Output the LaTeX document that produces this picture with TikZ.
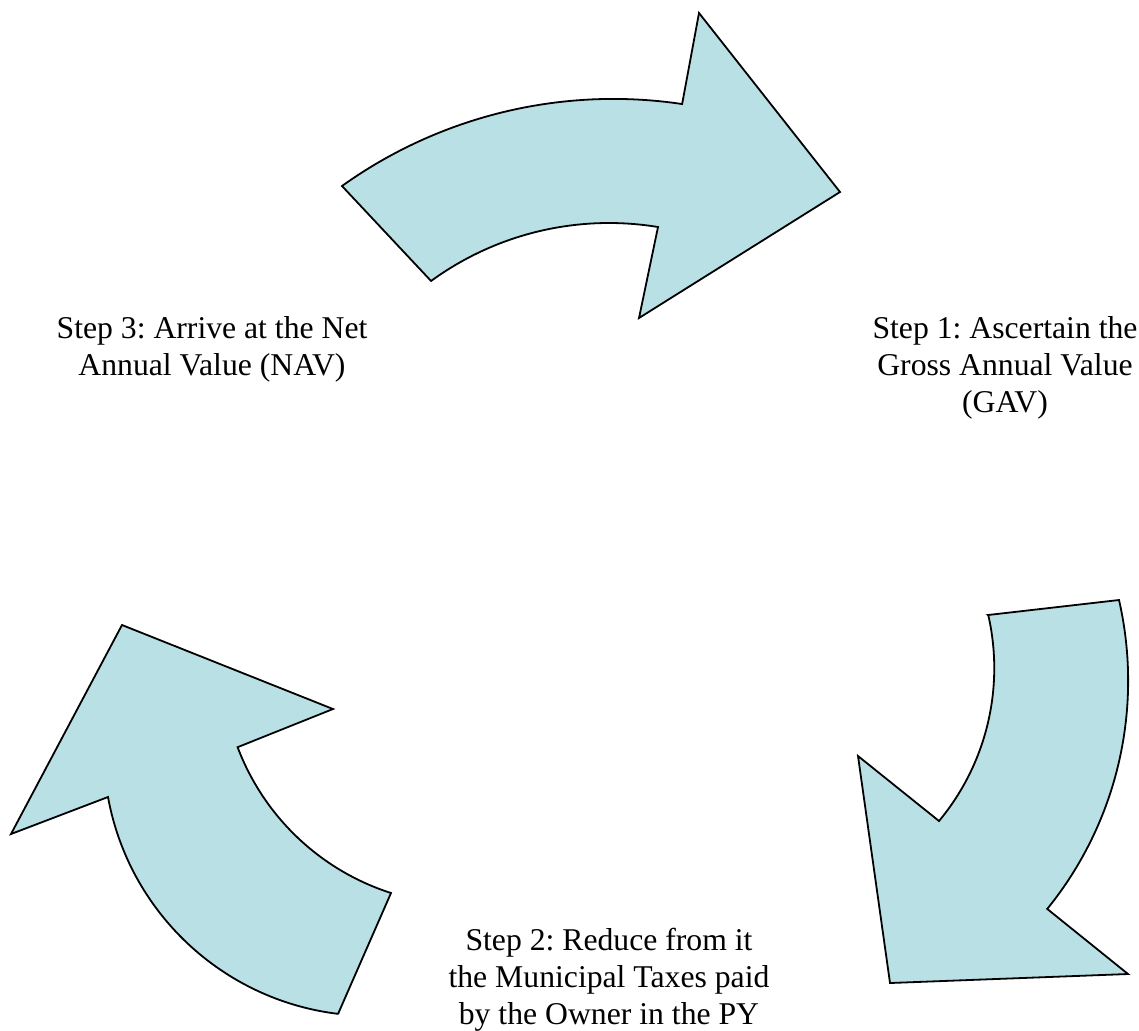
\documentclass[tikz,border=0pt]{standalone}
\usepackage{fontspec}
\setmainfont{Liberation Serif}
\frenchspacing
\definecolor{arrowfill}{RGB}{185,224,228}
\begin{document}
\begin{tikzpicture}[x=0.5pt,y=-0.5pt,
  cyclearrow/.style={fill=arrowfill,draw=black,line width=0.9pt,line join=miter},
  steplabel/.style={align=center,inner sep=0pt,anchor=base,
    font=\fontsize{15.85}{18.4}\selectfont}]
\useasboundingbox (0,0) rectangle (1139,1030);

% upper arrow, sweeping to the right
\draw[cyclearrow] (342,186) arc[start angle=-125.6,end angle=-81.5,radius=466]
  -- (699,13) -- (840,192) -- (639,318) -- (658,227)
  arc[start angle=-80.66,end angle=-126.1,radius=302] -- cycle;

% right arrow, bending down and to the left
\draw[cyclearrow] (988,615) -- (1119,600)
  arc[start angle=-12.9,end angle=39.06,radius=362]
  -- (1128,974) -- (890,983) -- (858,756) -- (939,821)
  arc[start angle=39.75,end angle=-12.8,radius=239] -- cycle;

% left arrow, bending up
\draw[cyclearrow] (338,1014) -- (391,893)
  arc[start angle=107.8,end angle=159.3,radius=243.6]
  -- (333,709) -- (122,625) -- (11,834) -- (108,797)
  arc[start angle=169.7,end angle=96.9,radius=266.4] -- cycle;

% step labels (placed by the baseline of their last line)
\node[steplabel] (s1) at (1005,412) {Step 1: Ascertain the\\Gross Annual Value\\(GAV)};
\node[steplabel] (s3) at (212,375) {Step 3: Arrive at the Net\\Annual Value (NAV)};
\node[steplabel] (s2) at (609,1024) {Step 2: Reduce from it\\the Municipal Taxes paid\\by the Owner in the PY};
\end{tikzpicture}
\end{document}
